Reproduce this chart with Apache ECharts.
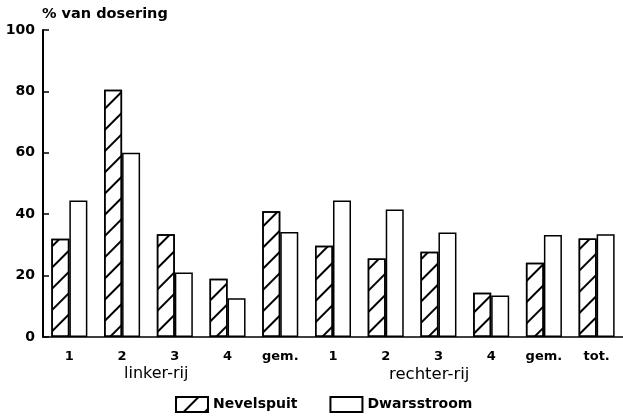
<!DOCTYPE html>
<html>
<head>
<meta charset="utf-8">
<script src="https://cdn.jsdelivr.net/npm/echarts@6/dist/echarts.min.js"></script>
<style>
  html, body { margin: 0; padding: 0; background: #fff; }
  #chart { width: 623px; height: 416px; }
</style>
</head>
<body>
<div id="chart"></div>
<script>
// categories per row (linker-rij, rechter-rij) plus total
const categories = ["1", "2", "3", "4", "gem.", "1", "2", "3", "4", "gem.", "tot."];
const nevelspuit = [32, 80.5, 33.5, 19, 41, 29.7, 25.6, 27.8, 14.4, 24.2, 32.1];
const dwarsstroom = [44.5, 60, 21, 12.6, 34.2, 44.5, 41.5, 34, 13.5, 33.2, 33.5];
const yTicks = [0, 20, 40, 60, 80, 100];
const seriesNames = ["Nevelspuit", "Dwarsstroom"];
const rowLabels = ["linker-rij", "rechter-rij"];

const font = "DejaVu Sans";

const chart = echarts.init(document.getElementById("chart"));

const option = {
  backgroundColor: "#fff",
  animation: false,
  grid: {
    left: 43,
    top: 30,
    width: 584,
    bottom: 79,
  },
  legend: {
    left: 175,
    top: 396,
    padding: 0,
    icon: "rect",
    itemWidth: 32,
    itemHeight: 15,
    itemGap: 32,
    textStyle: {
      fontFamily: font,
      fontWeight: "bold",
      fontSize: 14,
      color: "#000",
    },
    data: seriesNames,
  },
  xAxis: {
    type: "category",
    data: categories,
    axisLine: { lineStyle: { color: "#000", width: 1.5 } },
    axisTick: { show: false },
    axisLabel: {
      interval: 0,
      margin: 13,
      color: "#000",
      fontFamily: font,
      fontWeight: "bold",
      fontSize: 13,
    },
  },
  yAxis: {
    type: "value",
    min: yTicks[0],
    max: yTicks[yTicks.length - 1],
    interval: 20,
    name: "% van dosering",
    nameLocation: "end",
    nameGap: 8,
    nameTextStyle: {
      align: "left",
      color: "#000",
      fontFamily: font,
      fontWeight: "bold",
      fontSize: 14.5,
      padding: [0, 0, 0, -1],
    },
    axisLine: { show: true, lineStyle: { color: "#000", width: 2 } },
    axisTick: { show: true, inside: true, length: 6, lineStyle: { color: "#000", width: 1.5 } },
    splitLine: { show: false },
    axisLabel: {
      margin: 8,
      color: "#000",
      fontFamily: font,
      fontWeight: "bold",
      fontSize: 14,
    },
  },
  graphic: [
    {
      type: "text",
      left: 124,
      top: 366,
      style: { text: rowLabels[0], font: "16px " + font, fill: "#000" },
    },
    {
      type: "text",
      left: 389,
      top: 366,
      style: { text: rowLabels[1], font: "16.5px " + font, fill: "#000" },
    },
  ],
  series: [
    {
      name: seriesNames[0],
      type: "bar",
      barWidth: 18,
      barGap: "0%",
      data: nevelspuit,
      itemStyle: {
        color: "#fff",
        borderColor: "#000",
        borderWidth: 1.5,
        decal: {
          symbol: "rect",
          symbolSize: 1,
          color: "#000",
          dashArrayX: [1, 0],
          dashArrayY: [2, 13],
          rotation: -Math.PI / 4,
        },
      },
    },
    {
      name: seriesNames[1],
      type: "bar",
      barWidth: 18,
      data: dwarsstroom,
      itemStyle: {
        color: "#fff",
        borderColor: "#000",
        borderWidth: 1.5,
      },
    },
  ],
};

chart.setOption(option);
</script>
</body>
</html>
